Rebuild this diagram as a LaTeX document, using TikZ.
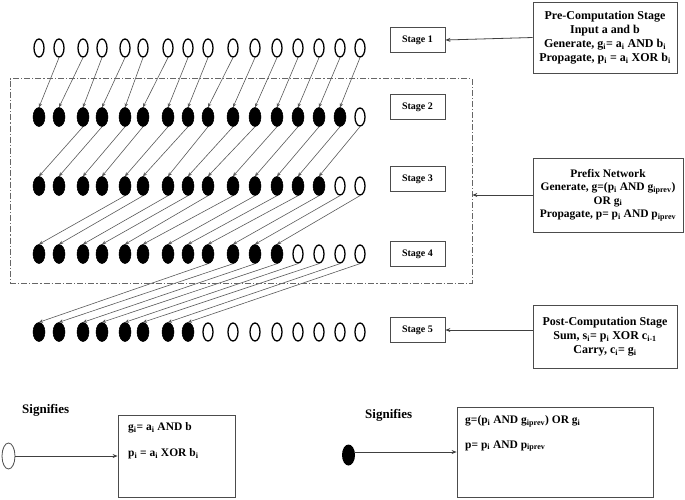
\documentclass[tikz,border=0pt]{standalone}
\usepackage{fontspec}
\setmainfont{Liberation Serif}
\usetikzlibrary{arrows.meta,shapes.geometric}
\begin{document}
\begin{tikzpicture}[x=1pt,y=-1pt,
  opencirc/.style={ellipse,draw=black,line width=1.3pt,minimum width=10pt,minimum height=18pt,inner sep=0pt},
  fullcirc/.style={ellipse,fill=black,draw=black,line width=0.5pt,minimum width=12pt,minimum height=19pt,inner sep=0pt},
  link/.style={draw=black!65,line width=0.6pt,-{Stealth[length=4pt,width=3.5pt]}},
  stagebox/.style={draw=black!70,line width=0.8pt,minimum width=55pt,minimum height=25pt,inner sep=0pt,font=\bfseries\fontsize{10}{10}\selectfont},
  infobox/.style={draw=black!70,line width=0.8pt,inner sep=0pt,align=center,font=\bfseries\fontsize{12}{14}\selectfont},
  ptr/.style={draw=black!75,line width=0.8pt,-{Stealth[length=5pt,width=4pt]}},
  txt/.style={font=\bfseries\fontsize{13}{14}\selectfont,inner sep=0pt,anchor=west},
  ltxt/.style={font=\bfseries\fontsize{11.5}{12}\selectfont,inner sep=0pt,anchor=west}
]
\useasboundingbox (0,0) rectangle (685,499);
% circle positions
\def\xs{39,59,83,102,125,143,168,188,208,233,255,277,298,319,340,360}
% row 1: all open
\foreach \x [count=\i] in \xs { \node[opencirc] (a\i) at (\x,48) {}; }
% row 2: 15 filled, 1 open
\foreach \x [count=\i] in \xs {
  \ifnum\i<16 \node[fullcirc] (b\i) at (\x,117) {}; \else \node[opencirc] (b\i) at (\x,117) {}; \fi }
% row 3: 14 filled
\foreach \x [count=\i] in \xs {
  \ifnum\i<15 \node[fullcirc] (c\i) at (\x,186) {}; \else \node[opencirc] (c\i) at (\x,186) {}; \fi }
% row 4: 12 filled
\foreach \x [count=\i] in \xs {
  \ifnum\i<13 \node[fullcirc] (d\i) at (\x,254) {}; \else \node[opencirc] (d\i) at (\x,254) {}; \fi }
% row 5: 8 filled
\foreach \x [count=\i] in \xs {
  \ifnum\i<9 \node[fullcirc] (e\i) at (\x,332) {}; \else \node[opencirc] (e\i) at (\x,332) {}; \fi }
% connectors
\foreach \i [evaluate=\i as \j using int(\i+1)] in {1,...,15} { \draw[link] (a\j.south) -- (b\i.north); }
\foreach \i [evaluate=\i as \j using int(\i+2)] in {1,...,14} { \draw[link] (b\j.south) -- (c\i.north); }
\foreach \i [evaluate=\i as \j using int(\i+4)] in {1,...,12} { \draw[link] (c\j.south) -- (d\i.north); }
\foreach \i [evaluate=\i as \j using int(\i+8)] in {1,...,8} { \draw[link] (d\j.south) -- (e\i.north); }
% dash-dot frame
\node[draw=black!60,line width=0.7pt,dash pattern=on 6pt off 2pt on 1.2pt off 2pt,minimum width=462pt,minimum height=205pt,inner sep=0pt] (frame) at (241,181) {};
% stage boxes
\node[stagebox] (s1) at (417.5,40) {Stage 1};
\node[stagebox] (s2) at (417.5,107) {Stage 2};
\node[stagebox] (s3) at (417.5,179) {Stage 3};
\node[stagebox] (s4) at (417.5,254) {Stage 4};
\node[stagebox] (s5) at (417.5,330) {Stage 5};
% info boxes
\node[infobox,minimum width=144pt,minimum height=71pt] (pre) at (605,37.5) {Pre-Computation Stage\\Input a and b\\Generate, g\textsubscript{i}= a\textsubscript{i} AND b\textsubscript{i}\\Propagate, p\textsubscript{i} = a\textsubscript{i} XOR b\textsubscript{i}};
\node[infobox,font=\bfseries\fontsize{11.5}{13.5}\selectfont,minimum width=150pt,minimum height=74pt] (pfx) at (608,195) {Prefix Network\\Generate, g=(p\textsubscript{i} AND g\textsubscript{iprev})\\OR g\textsubscript{i}\\Propagate, p= p\textsubscript{i} AND p\textsubscript{iprev}};
\node[infobox,minimum width=144pt,minimum height=63pt] (post) at (605,336.5) {Post-Computation Stage\\Sum, s\textsubscript{i}= p\textsubscript{i} XOR c\textsubscript{i-1}\\Carry, c\textsubscript{i}= g\textsubscript{i}};
\draw[ptr] (pre.west) -- (s1.east);
\coordinate (fr) at (frame.east |- pfx.west);
\draw[ptr] (pfx.west) -- (fr);
\draw[ptr] (post.west |- s5.east) -- (s5.east);
% legend left
\node[txt] (sig1) at (22,410) {Signifies};
\node[ellipse,draw=black!70,line width=0.8pt,minimum width=13pt,minimum height=26pt,inner sep=0pt] (lo) at (8.5,456) {};
\node[draw=black!70,line width=0.8pt,minimum width=117pt,minimum height=82pt,inner sep=0pt] (lbox) at (176.5,456) {};
\draw[ptr] (lo.east) -- (lo.east -| lbox.west);
\node[ltxt] (l1) at (128,428) {g\textsubscript{i}= a\textsubscript{i} AND b};
\node[ltxt] (l2) at (128,454) {p\textsubscript{i} = a\textsubscript{i} XOR b\textsubscript{i}};
% legend right
\node[txt] (sig2) at (365,415) {Signifies};
\node[ellipse,fill=black,minimum width=13pt,minimum height=21pt,inner sep=0pt] (lf) at (348.5,455) {};
\node[draw=black!70,line width=0.8pt,minimum width=196pt,minimum height=90pt,inner sep=0pt] (rbox) at (555,452) {};
\draw[ptr] (lf.east |- 0,452) -- (rbox.west);
\node[ltxt] (r1) at (465,421) {g=(p\textsubscript{i} AND g\textsubscript{iprev}) OR g\textsubscript{i}};
\node[ltxt] (r2) at (465,446) {p= p\textsubscript{i} AND p\textsubscript{iprev}};
\end{tikzpicture}
\end{document}
